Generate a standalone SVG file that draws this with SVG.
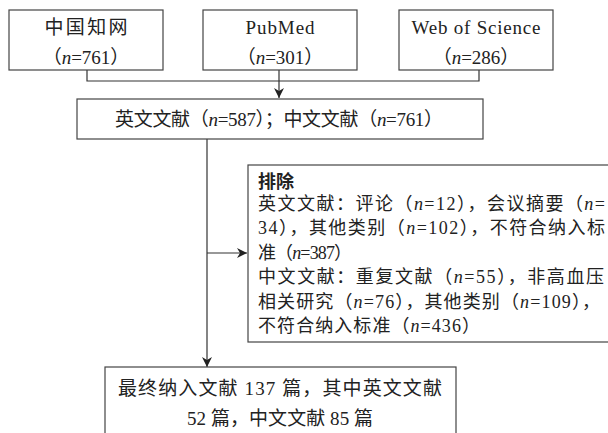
<svg xmlns="http://www.w3.org/2000/svg" width="608" height="433" viewBox="0 0 608 433">
<defs>
<style>
.box{fill:#fff;stroke:#444;stroke-width:1.2}
.t{font-family:"Liberation Serif","Noto Sans CJK SC",serif;font-size:18px;fill:#222}
.m{font-size:19px}
.c{text-anchor:middle}
.b{font-weight:bold}
.ln{fill:none;stroke:#333;stroke-width:1.2}
</style>
<marker id="ah" viewBox="0 0 10 10" refX="10" refY="5" markerWidth="10" markerHeight="10" markerUnits="userSpaceOnUse" orient="auto">
<path d="M0,0 L10,5 L0,10 L3,5 Z" fill="#222"/>
</marker>
</defs>
<rect width="608" height="433" fill="#fff"/>
<g id="connectors">
<polyline class="ln" points="87,70 87,81 479,81 479,70"/>
<line class="ln" x1="279" y1="70" x2="279" y2="98" marker-end="url(#ah)"/>
<line class="ln" x1="207" y1="139" x2="207" y2="367" marker-end="url(#ah)"/>
<line class="ln" x1="207" y1="253" x2="247" y2="253" marker-end="url(#ah)"/>
</g>
<g id="n1">
<rect class="box" x="9" y="10" width="154" height="60"/>
<text class="t m c" x="86" y="34" textLength="83" lengthAdjust="spacing">中国知网</text>
<text class="t m c" x="86" y="64">（<tspan font-style="italic">n</tspan>=761）</text>
</g>
<g id="n2">
<rect class="box" x="203" y="10" width="154" height="60"/>
<text class="t m c" x="280" y="34" textLength="69" lengthAdjust="spacing">PubMed</text>
<text class="t m c" x="280" y="64">（<tspan font-style="italic">n</tspan>=301）</text>
</g>
<g id="n3">
<rect class="box" x="399" y="10" width="154" height="60"/>
<text class="t m c" x="476" y="34" textLength="129" lengthAdjust="spacing">Web of Science</text>
<text class="t m c" x="476" y="64">（<tspan font-style="italic">n</tspan>=286）</text>
</g>
<g id="n4">
<rect class="box" x="77" y="99" width="406" height="40"/>
<text class="t m c" x="279" y="126" textLength="328" lengthAdjust="spacing">英文文献（<tspan font-style="italic">n</tspan>=587）；中文文献（<tspan font-style="italic">n</tspan>=761）</text>
</g>
<g id="n5">
<rect class="box" x="248" y="165" width="366" height="177"/>
<text class="t b" x="258" y="188">排除</text>
<text class="t" x="258" y="210" textLength="347" lengthAdjust="spacing">英文文献：评论（<tspan font-style="italic">n</tspan>=12），会议摘要（<tspan font-style="italic">n</tspan>=</text>
<text class="t" x="258" y="234" textLength="347" lengthAdjust="spacing">34），其他类别（<tspan font-style="italic">n</tspan>=102），不符合纳入标</text>
<text class="t" x="258" y="259" textLength="94" lengthAdjust="spacing">准（<tspan font-style="italic">n</tspan>=387）</text>
<text class="t" x="258" y="283" textLength="346" lengthAdjust="spacing">中文文献：重复文献（<tspan font-style="italic">n</tspan>=55），非高血压</text>
<text class="t" x="258" y="308" textLength="342" lengthAdjust="spacing">相关研究（<tspan font-style="italic">n</tspan>=76），其他类别（<tspan font-style="italic">n</tspan>=109），</text>
<text class="t" x="258" y="332" textLength="222" lengthAdjust="spacing">不符合纳入标准（<tspan font-style="italic">n</tspan>=436）</text>
</g>
<g id="n6">
<rect class="box" x="105" y="367" width="351" height="80"/>
<text class="t m c" x="280" y="395" textLength="324" lengthAdjust="spacing">最终纳入文献 137 篇，其中英文文献</text>
<text class="t m c" x="280" y="425" textLength="186" lengthAdjust="spacing">52 篇，中文文献 85 篇</text>
</g>
</svg>
